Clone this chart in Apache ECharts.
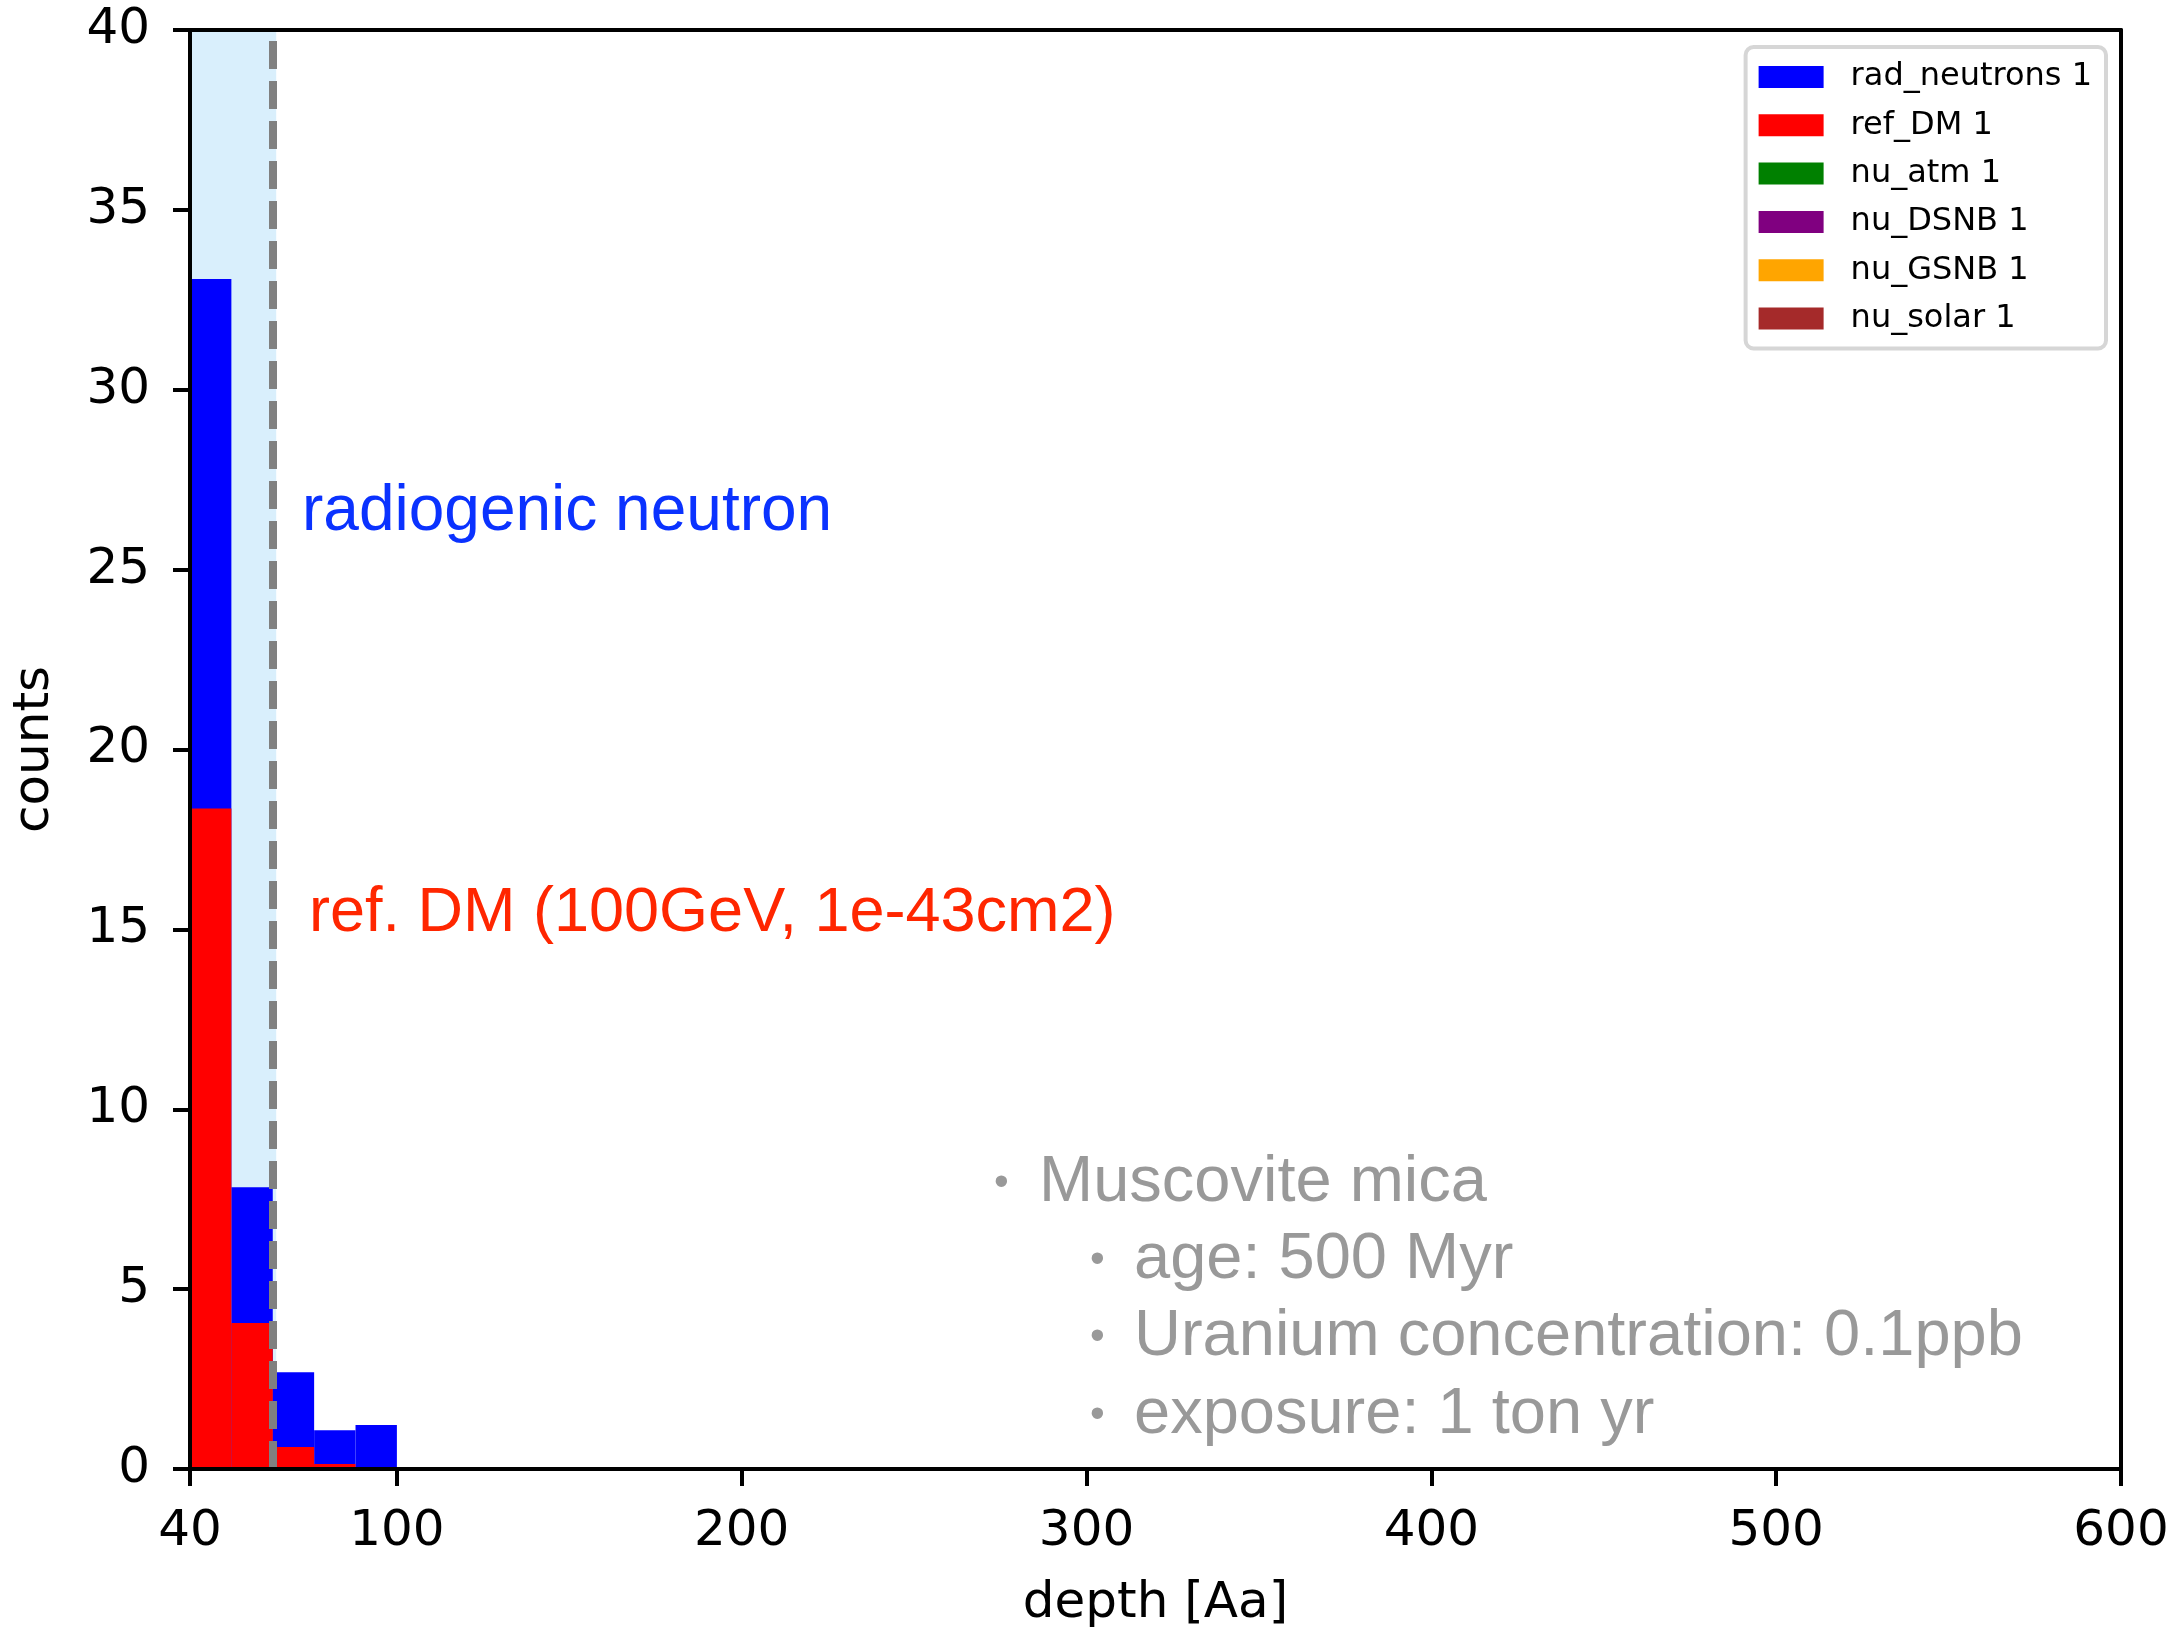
<!DOCTYPE html>
<html>
<head>
<meta charset="utf-8">
<script src="https://cdn.jsdelivr.net/npm/echarts@6/dist/echarts.min.js"></script>
<style>
  html, body { margin: 0; padding: 0; background: #fff; }
  #chart { width: 2172px; height: 1634px; }
</style>
</head>
<body>
<div id="chart"></div>
<script>
// histogram bins (depth in Aa)
const binEdges = [40, 52, 64, 76, 88, 100];
const radNeutrons = [33.08, 7.83, 2.69, 1.08, 1.22];
const refDM = [18.36, 4.06, 0.61, 0.14, 0.0];

// other backgrounds are empty in this plot
const legendNames = ["rad_neutrons 1", "ref_DM 1", "nu_atm 1", "nu_DSNB 1", "nu_GSNB 1", "nu_solar 1"];
const legendColors = ["#0000ff", "#ff0000", "#008000", "#800080", "#ffa500", "#a52a2a"];

const xTicks = [40, 100, 200, 300, 400, 500, 600];
const shadeRange = [40, 65];
const cutDepth = 64;

const infoLines = ["age: 500 Myr", "Uranium concentration: 0.1ppb", "exposure: 1 ton yr"];

const FONT = "DejaVu Sans";
const TEXT_FONT = "Liberation Sans";

function toBins(counts) {
  return counts.map((c, i) => [binEdges[i], binEdges[i + 1], c]);
}

function barRenderer(color) {
  return (params, api) => {
    const p0 = api.coord([api.value(0), api.value(2)]);
    const p1 = api.coord([api.value(1), 0]);
    return {
      type: "rect",
      shape: { x: p0[0], y: p0[1], width: p1[0] - p0[0], height: p1[1] - p0[1] },
      style: { fill: color },
    };
  };
}

const histData = [toBins(radNeutrons), toBins(refDM), [], [], [], []];

const histSeries = legendNames.map((name, i) => ({
  name: name,
  type: "custom",
  z: 3 + i,
  silent: true,
  itemStyle: { color: legendColors[i] },
  encode: { x: [0, 1], y: 2 },
  renderItem: barRenderer(legendColors[i]),
  data: histData[i],
}));

const chart = echarts.init(document.getElementById("chart"));

chart.setOption({
  animation: false,
  backgroundColor: "#fff",
  grid: { left: 190, top: 30, right: 51, bottom: 164 },
  legend: {
    data: legendNames,
    orient: "vertical",
    right: 66,
    top: 47,
    selectedMode: false,
    icon: "rect",
    itemWidth: 65,
    itemHeight: 22,
    itemGap: 16.3,
    padding: [14, 14, 14, 13],
    backgroundColor: "#fff",
    borderColor: "#d6d6d6",
    borderWidth: 4,
    borderRadius: 8,
    textStyle: {
      fontFamily: FONT,
      fontSize: 32,
      color: "#000",
      lineHeight: 22,
      padding: [0, 0, 0, 22],
    },
  },
  xAxis: [
    {
      type: "value",
      min: 40,
      max: 600,
      position: "bottom",
      z: 20,
      name: "depth [Aa]",
      nameLocation: "middle",
      nameGap: 110,
      nameTextStyle: { fontFamily: FONT, fontSize: 50, color: "#000" },
      axisLine: { onZero: false, lineStyle: { color: "#000", width: 4 } },
      axisTick: { customValues: xTicks, length: 17, lineStyle: { color: "#000", width: 4 } },
      axisLabel: { customValues: xTicks, fontFamily: FONT, fontSize: 50, color: "#000", margin: 38 },
      splitLine: { show: false },
    },
    {
      type: "value",
      min: 40,
      max: 600,
      position: "top",
      z: 20,
      axisLine: { onZero: false, lineStyle: { color: "#000", width: 4 } },
      axisTick: { show: false },
      axisLabel: { show: false },
      splitLine: { show: false },
    },
  ],
  yAxis: [
    {
      type: "value",
      min: 0,
      max: 40,
      interval: 5,
      position: "left",
      z: 20,
      name: "counts",
      nameLocation: "middle",
      nameGap: 130,
      nameTextStyle: { fontFamily: FONT, fontSize: 50, color: "#000" },
      axisLine: { show: true, onZero: false, lineStyle: { color: "#000", width: 4 } },
      axisTick: { show: true, length: 17, lineStyle: { color: "#000", width: 4 } },
      axisLabel: { fontFamily: FONT, fontSize: 50, color: "#000", margin: 40 },
      splitLine: { show: false },
    },
    {
      type: "value",
      min: 0,
      max: 40,
      position: "right",
      z: 20,
      axisLine: { show: true, onZero: false, lineStyle: { color: "#000", width: 4 } },
      axisTick: { show: false },
      axisLabel: { show: false },
      splitLine: { show: false },
    },
  ],
  series: [
    {
      name: "shade",
      type: "line",
      z: 1,
      silent: true,
      data: [],
      markArea: {
        silent: true,
        itemStyle: { color: "#d9effc" },
        data: [[{ xAxis: shadeRange[0] }, { xAxis: shadeRange[1] }]],
      },
    },
    ...histSeries,
    {
      name: "cut",
      type: "line",
      z: 12,
      silent: true,
      data: [],
      markLine: {
        silent: true,
        symbol: "none",
        label: { show: false },
        lineStyle: { color: "#808080", width: 8, type: [28, 12] },
        data: [{ xAxis: cutDepth }],
      },
    },
  ],
  graphic: [
    {
      type: "text",
      x: 302,
      y: 512,
      style: { text: "radiogenic neutron", fontFamily: TEXT_FONT, fontSize: 64, fill: "#0a32ff", verticalAlign: "middle" },
    },
    {
      type: "text",
      x: 309,
      y: 914,
      style: { text: "ref. DM (100GeV, 1e-43cm2)", fontFamily: TEXT_FONT, fontSize: 63, fill: "#ff2600", verticalAlign: "middle" },
    },
    {
      type: "text",
      x: 994,
      y: 1183,
      style: { text: "•", fontFamily: TEXT_FONT, fontSize: 42, fill: "#999999", verticalAlign: "middle" },
    },
    {
      type: "text",
      x: 1039,
      y: 1183,
      style: { text: "Muscovite mica", fontFamily: TEXT_FONT, fontSize: 65, fill: "#999999", verticalAlign: "middle" },
    },
    ...infoLines.flatMap((line, i) => [
      {
        type: "text",
        x: 1090,
        y: 1260 + i * 77.5,
        style: { text: "•", fontFamily: TEXT_FONT, fontSize: 42, fill: "#999999", verticalAlign: "middle" },
      },
      {
        type: "text",
        x: 1134,
        y: 1260 + i * 77.5,
        style: { text: line, fontFamily: TEXT_FONT, fontSize: 65, fill: "#999999", verticalAlign: "middle" },
      },
    ]),
  ],
});
</script>
</body>
</html>
